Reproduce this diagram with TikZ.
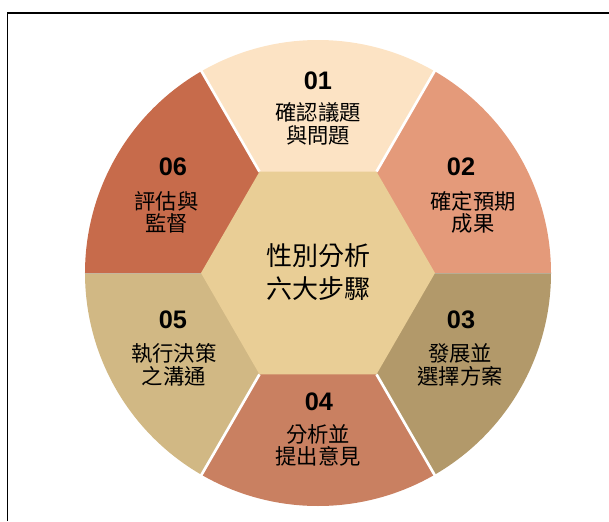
\documentclass[tikz,border=0pt]{standalone}
\usepackage{fontspec}
\setmainfont{Liberation Sans}
\newfontfamily\cjk{Noto Sans CJK TC}
\usepackage{tikz}
\definecolor{step01}{RGB}{252,227,196}
\definecolor{step02}{RGB}{228,154,122}
\definecolor{step03}{RGB}{178,153,106}
\definecolor{step04}{RGB}{201,128,97}
\definecolor{step05}{RGB}{209,184,132}
\definecolor{step06}{RGB}{199,107,75}
\definecolor{hubfill}{RGB}{233,206,150}
\tikzstyle{num}=[font=\fontsize{19}{19}\selectfont\bfseries,text=black,inner sep=0pt]
\tikzstyle{stepname}=[align=center,font=\cjk\fontsize{16}{17}\selectfont,text=black,inner sep=0pt]
\tikzstyle{title}=[align=center,font=\cjk\fontsize{19.5}{25}\selectfont,text=black,inner sep=0pt]
\tikzstyle{gap}=[white,line width=2pt]
\tikzstyle{seam}=[black!25,line width=0.6pt,opacity=0.5]

\begin{document}
\begin{tikzpicture}[x=0.75pt,y=0.75pt]

  \useasboundingbox (-318,-248) rectangle (291,273);
  \draw[line width=1.2pt] (-310.5,-248)--(-310.5,260)--(291,260);

  % six steps round the wheel
  \fill[step01] (0,0)--(60:233) arc[start angle=60,end angle=120,radius=233]--cycle;
  \fill[step02] (0,0)--(0:233) arc[start angle=0,end angle=60,radius=233]--cycle;
  \fill[step03] (0,0)--(-60:233) arc[start angle=-60,end angle=0,radius=233]--cycle;
  \fill[step04] (0,0)--(-120:233) arc[start angle=-120,end angle=-60,radius=233]--cycle;
  \fill[step05] (0,0)--(180:233) arc[start angle=180,end angle=240,radius=233]--cycle;
  \fill[step06] (0,0)--(120:233) arc[start angle=120,end angle=180,radius=233]--cycle;
  \draw[seam] (0:117)--(0:233); \draw[seam] (180:117)--(180:233);
  \draw[gap] (60:117)--(60:236); \draw[gap] (120:117)--(120:236);
  \draw[gap] (240:117)--(240:236); \draw[gap] (300:117)--(300:236);
  \fill[hubfill] (0:117)--(60:117)--(120:117)--(180:117)--(240:117)--(300:117)--cycle;

  \node[title] (hub) at (0,1) {性別分析\\六大步驟};

  \node[num] (n01) at (0,192) {01};
  \node[stepname] (t01) at (0,149) {確認議題\\與問題};
  \node[num] (n02) at (143,106.5) {02};
  \node[stepname] (t02) at (155,60.5) {確定預期\\成果};
  \node[num] (n03) at (143,-47) {03};
  \node[stepname] (t03) at (142,-92) {發展並\\選擇方案};
  \node[num] (n04) at (1,-129) {04};
  \node[stepname] (t04) at (0,-172.5) {分析並\\提出意見};
  \node[num] (n05) at (-145,-47) {05};
  \node[stepname] (t05) at (-144,-92) {執行決策\\之溝通};
  \node[num] (n06) at (-145,106.5) {06};
  \node[stepname] (t06) at (-151.5,60.5) {評估與\\監督};

\end{tikzpicture}
\end{document}
